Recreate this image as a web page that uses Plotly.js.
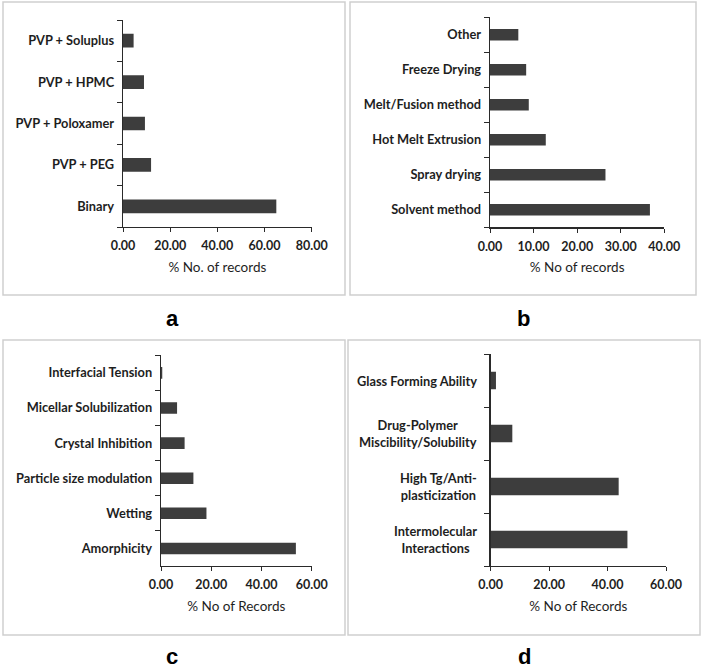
<!DOCTYPE html>
<html><head><meta charset="utf-8">
<script src="https://cdn.plot.ly/plotly-3.0.1.min.js"></script>
<style>html,body{margin:0;padding:0;background:#fff;}#chart{width:703px;height:672px;}</style>
</head><body><div id="chart"></div>
<script>
// ---- data (bottom category first) ----
const polymerCategories = ['Binary', 'PVP + PEG', 'PVP + Poloxamer', 'PVP + HPMC', 'PVP + Soluplus'];
const polymerValues = [65.0, 11.9, 9.3, 8.9, 4.5];

const methodCategories = ['Solvent method', 'Spray drying', 'Hot Melt Extrusion', 'Melt/Fusion method', 'Freeze Drying', 'Other'];
const methodValues = [36.7, 26.5, 12.8, 8.9, 8.3, 6.5];

const mechanismCategories = ['Amorphicity', 'Wetting', 'Particle size modulation', 'Crystal Inhibition', 'Micellar Solubilization', 'Interfacial Tension'];
const mechanismValues = [53.7, 18.1, 12.9, 9.4, 6.4, 0.5];

const stabilityCategories = ['Intermolecular<br>Interactions', 'High Tg/Anti-<br>plasticization', 'Drug-Polymer<br>Miscibility/Solubility', 'Glass Forming Ability'];
const stabilityValues = [46.8, 43.8, 7.4, 1.8];

const axisTitles = ['% No. of records', '% No of records', '% No of Records', '% No of Records'];
const panelLetters = ['a', 'b', 'c', 'd'];

// ---- layout helpers ----
const W = 703, H = 672;
const fx = p => p / W;
const fy = p => 1 - p / H;

const barColor = '#3d3d3d';
const textColor = '#1e1e1e';
const lineColor = '#2a2a2a';
const boxColor = '#cfcfcf';
const catFont = {family: 'Lato, sans-serif', size: 12.8, color: textColor, weight: 'bold'};

function barTrace(cats, vals, xa, ya) {
  return {type: 'bar', orientation: 'h', x: vals, y: cats, xaxis: xa, yaxis: ya,
    marker: {color: barColor, line: {width: 0}}, width: 0.33, hoverinfo: 'x+y', showlegend: false};
}

const data = [
  barTrace(polymerCategories, polymerValues, 'x', 'y'),
  barTrace(methodCategories, methodValues, 'x2', 'y2'),
  barTrace(mechanismCategories, mechanismValues, 'x3', 'y3'),
  barTrace(stabilityCategories, stabilityValues, 'x4', 'y4')
];

function xAxis(domain, range, dtick, title, anchor) {
  return {domain: domain, range: range, dtick: dtick, tick0: 0, tickformat: '.2f', anchor: anchor,
    showgrid: false, zeroline: false, showline: true, linecolor: lineColor, linewidth: 1.3,
    ticks: 'outside', ticklen: 4, tickwidth: 1, tickcolor: lineColor, ticklabelstandoff: 3,
    tickfont: {family: 'Lato, sans-serif', size: 12.5, color: textColor, weight: 'bold'},
    title: {text: title, standoff: 10, font: {family: 'Lato, sans-serif', size: 13.5, color: textColor}},
    fixedrange: true};
}
function yAxis(domain, nCats, anchor, showLabels) {
  return {domain: domain, type: 'category', range: [-0.5, nCats - 0.5], anchor: anchor,
    showgrid: false, zeroline: false, showline: true, linecolor: lineColor, linewidth: 1.3,
    ticks: 'outside', tickson: 'boundaries', ticklen: 5, tickwidth: 1, tickcolor: lineColor,
    ticklabelstandoff: 5, showticklabels: showLabels,
    tickfont: catFont,
    fixedrange: true};
}

const layout = {
  width: W, height: H, margin: {l: 0, r: 0, t: 0, b: 0},
  paper_bgcolor: '#ffffff', plot_bgcolor: 'rgba(0,0,0,0)',
  font: {family: 'Lato, sans-serif', color: textColor},
  showlegend: false,
  xaxis:  xAxis([fx(123), fx(311.7)], [0, 80], 20, axisTitles[0], 'y'),
  yaxis:  yAxis([fy(227), fy(20)], polymerCategories.length, 'x', true),
  xaxis2: xAxis([fx(490), fx(664.3)], [0, 40], 10, axisTitles[1], 'y2'),
  yaxis2: yAxis([fy(227.3), fy(17.3)], methodCategories.length, 'x2', true),
  xaxis3: xAxis([fx(161), fx(311.7)], [0, 60], 20, axisTitles[2], 'y3'),
  yaxis3: yAxis([fy(566), fy(355.3)], mechanismCategories.length, 'x3', true),
  xaxis4: xAxis([fx(490.7), fx(666)], [0, 60], 20, axisTitles[3], 'y4'),
  yaxis4: yAxis([fy(566), fy(354)], stabilityCategories.length, 'x4', false),
  shapes: [
    [3, 345, 2, 295], [350, 696, 2, 295], [3, 345, 340, 635], [348, 700, 340, 635]
  ].map(b => ({type: 'rect', xref: 'paper', yref: 'paper', x0: fx(b[0]), x1: fx(b[1]), y0: fy(b[3]), y1: fy(b[2]),
    line: {color: boxColor, width: 1.5}, fillcolor: 'rgba(0,0,0,0)', layer: 'below'})),
  annotations: []
};

// panel letters
const letterPos = [[172, 318], [523, 318], [172, 656], [524, 656]];
panelLetters.forEach((t, i) => {
  layout.annotations.push({text: t, xref: 'paper', yref: 'paper', x: fx(letterPos[i][0]), y: fy(letterPos[i][1]),
    xanchor: 'center', yanchor: 'middle', showarrow: false,
    font: {family: 'Liberation Sans, Arial, sans-serif', size: 22, color: '#000', weight: 'bold'}});
});

// centred multi-line category labels for panel d, placed on its category axis
stabilityCategories.forEach(c => {
  layout.annotations.push({text: c, xref: 'x4', yref: 'y4', x: 0, y: c, xanchor: 'right', yanchor: 'middle',
    xshift: -12, align: 'center', showarrow: false, font: catFont});
});

Plotly.newPlot('chart', data, layout, {displayModeBar: false, staticPlot: true});
</script>
</body></html>
